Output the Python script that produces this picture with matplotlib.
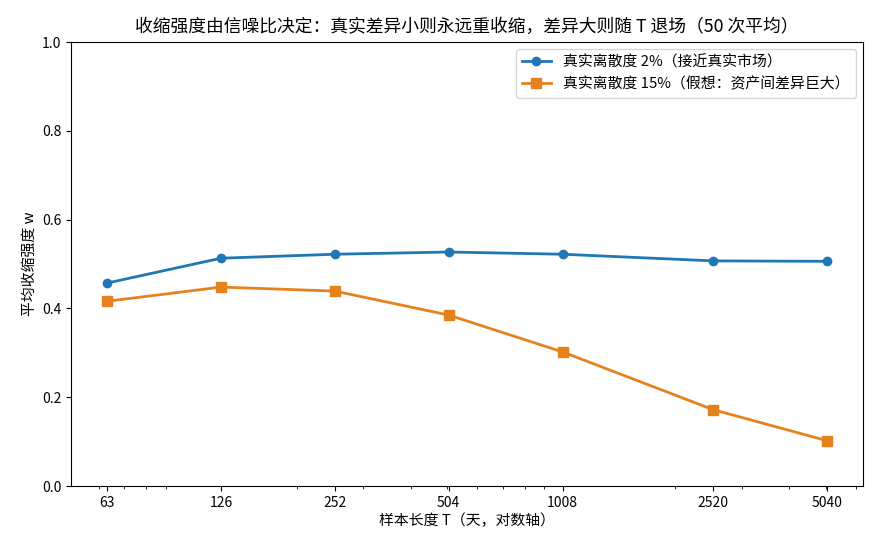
import matplotlib
matplotlib.use("Agg")
import matplotlib.pyplot as plt
from matplotlib.ticker import FixedLocator, FixedFormatter, LogLocator, NullFormatter

plt.rcParams['font.family'] = ['Noto Sans CJK SC', 'DejaVu Sans']
plt.rcParams['axes.unicode_minus'] = False

T_values = [63, 126, 252, 504, 1008, 2520, 5040]
tick_labels = ["63", "126", "252", "504", "1008", "2520", "5040"]
w_disp2 = [0.457, 0.513, 0.522, 0.527, 0.522, 0.507, 0.506]
w_disp15 = [0.416, 0.448, 0.439, 0.385, 0.302, 0.172, 0.102]
label2 = "真实离散度 2%（接近真实市场）"
label15 = "真实离散度 15%（假想：资产间差异巨大）"

fig = plt.figure(figsize=(8.8, 5.5), dpi=100)
ax = fig.add_axes([71/880, 1 - 486/550, (863 - 71)/880, (486 - 42)/550])

ax.plot(T_values, w_disp2, marker='o', color='#1f77b4', lw=2, ms=6, label=label2)
ax.plot(T_values, w_disp15, marker='s', color='#e6821e', lw=2, ms=6.5, label=label15)

ax.set_xscale('log')
ax.xaxis.set_major_locator(FixedLocator(T_values))
ax.xaxis.set_major_formatter(FixedFormatter(tick_labels))
ax.xaxis.set_minor_locator(LogLocator(base=10, subs=range(2, 10), numticks=20))
ax.xaxis.set_minor_formatter(NullFormatter())
ax.set_xlim(50.6, 6276)
ax.set_ylim(0, 1.0)
ax.set_yticks([0, 0.2, 0.4, 0.6, 0.8, 1.0])
ax.set_yticklabels(["0.0", "0.2", "0.4", "0.6", "0.8", "1.0"])

ax.set_title("收缩强度由信噪比决定：真实差异小则永远重收缩，差异大则随 T 退场（50 次平均）", fontsize=12.8, pad=7)
ax.set_xlabel("样本长度 T（天，对数轴）", fontsize=10.7, labelpad=3)
ax.set_ylabel("平均收缩强度 w", fontsize=10.7)
ax.tick_params(labelsize=10)
ax.legend(loc='upper right', fontsize=10.7, framealpha=0.8)

fig.savefig("out.png", dpi=100)
